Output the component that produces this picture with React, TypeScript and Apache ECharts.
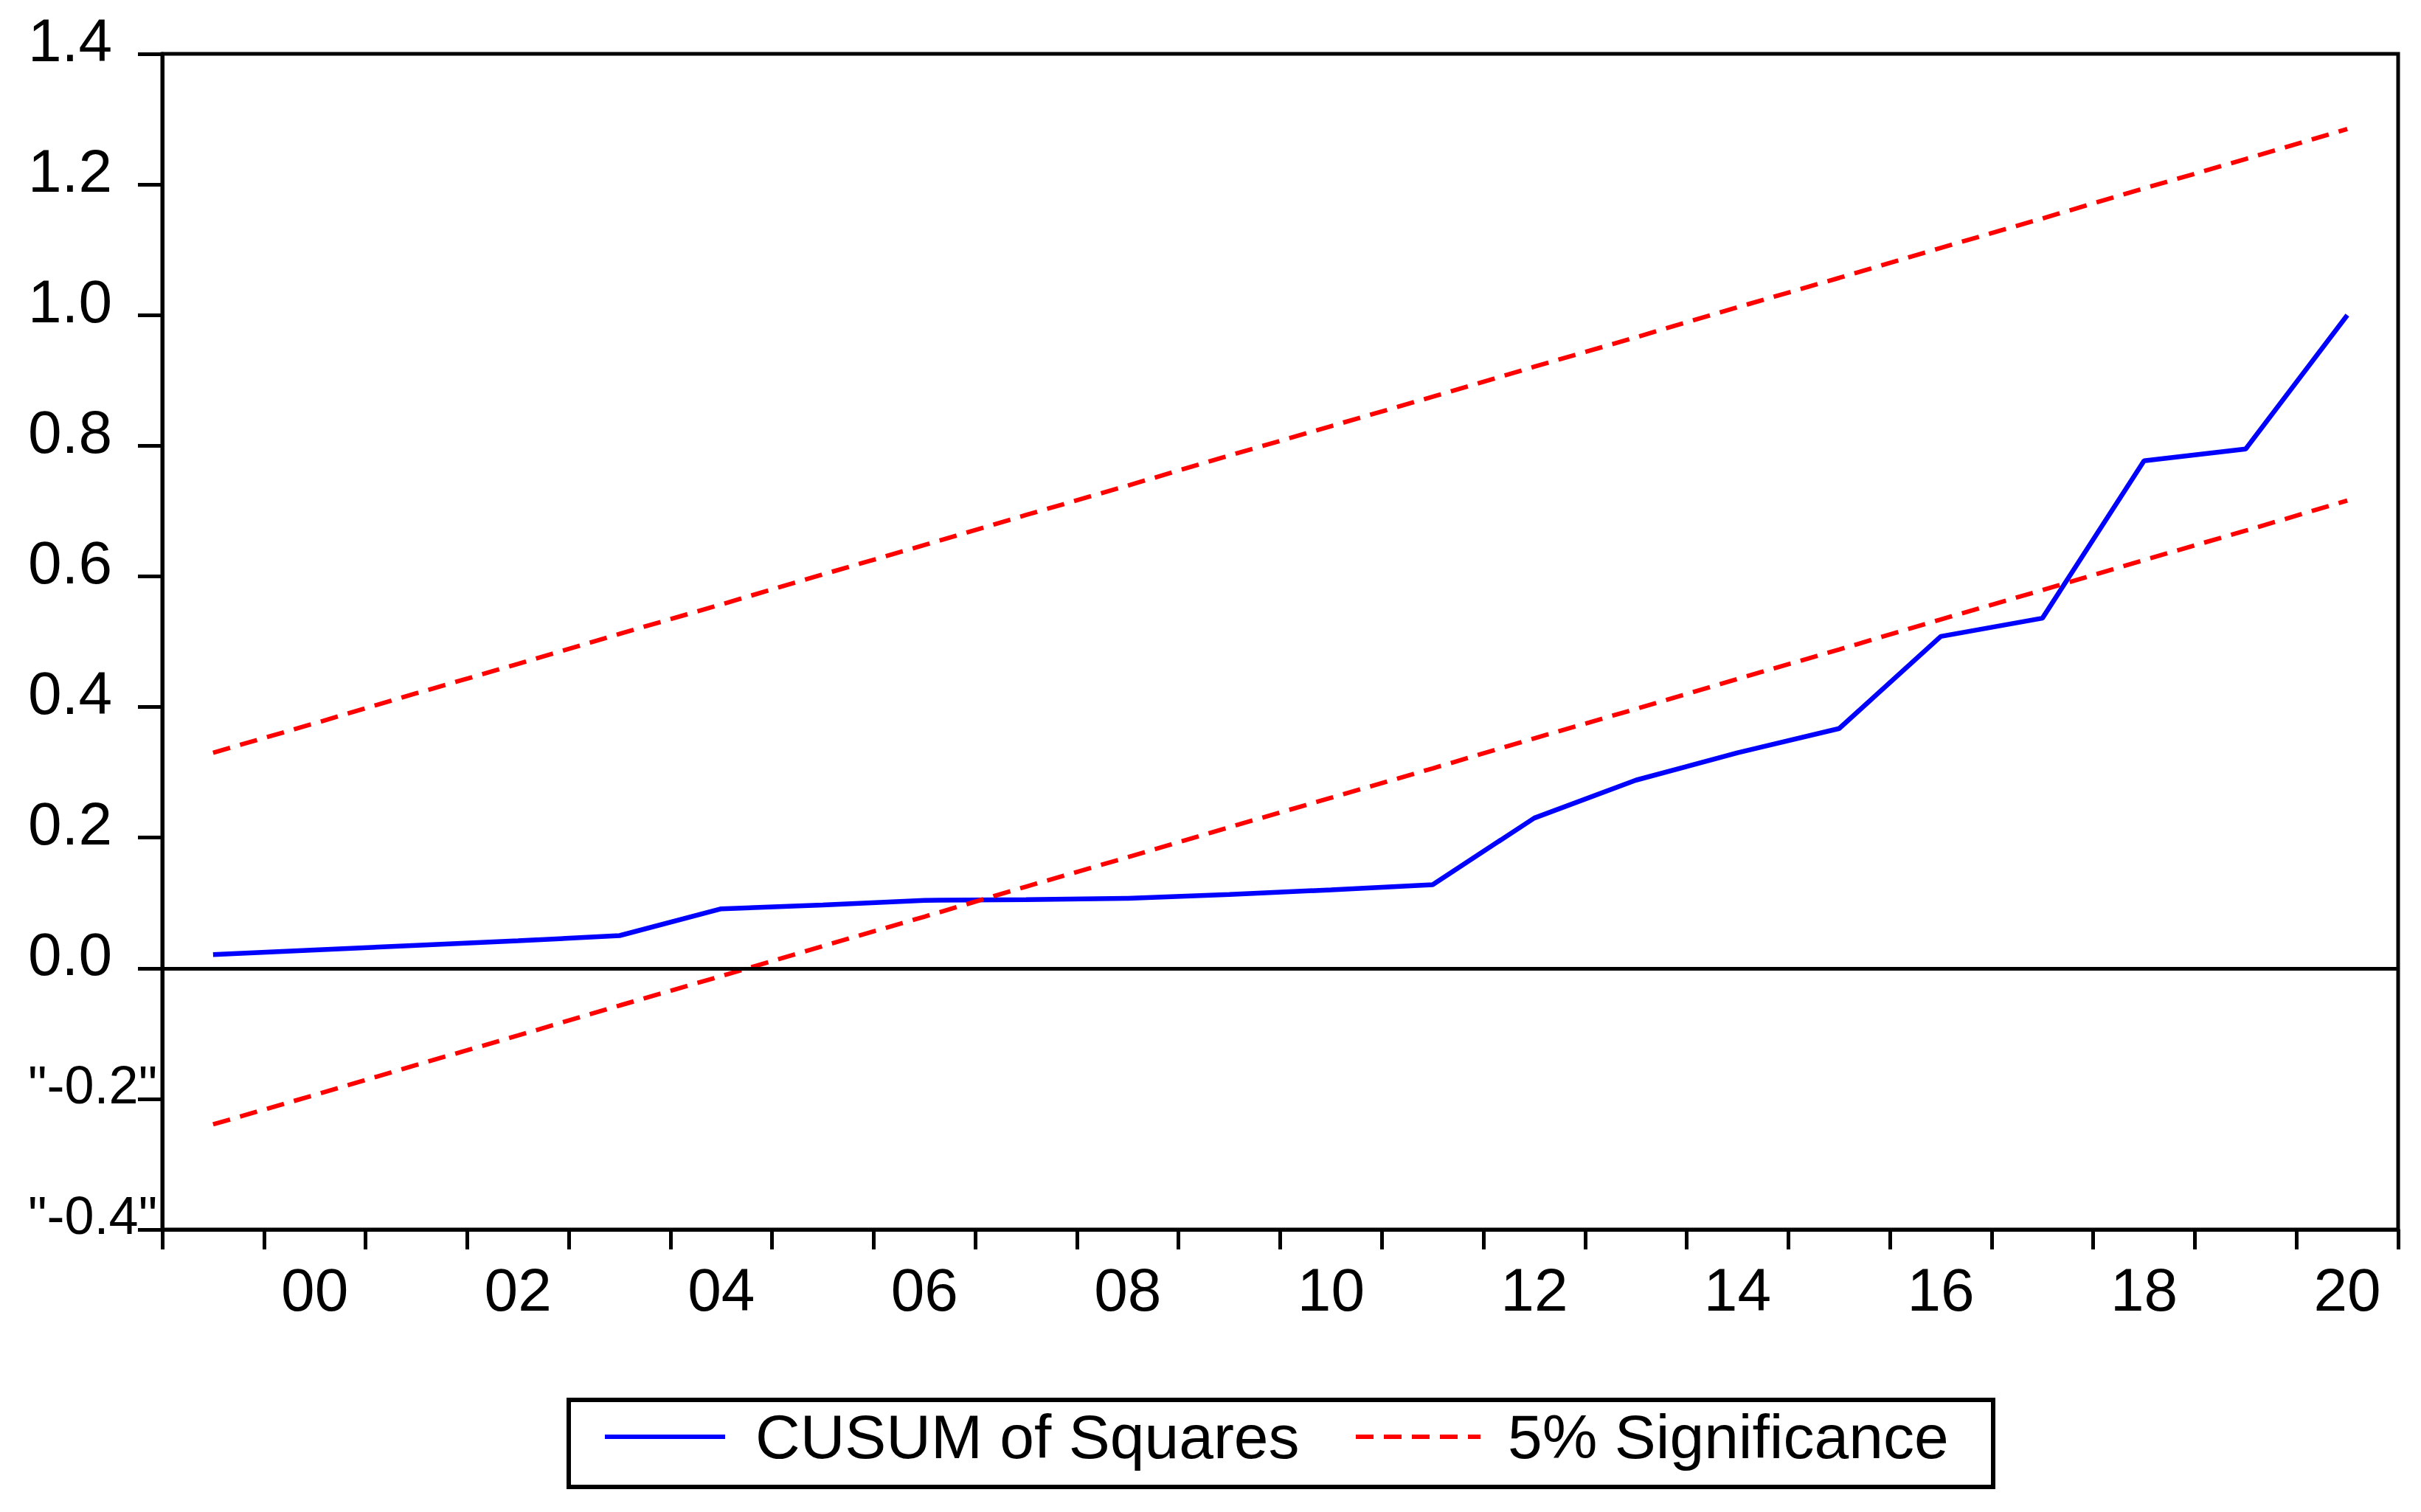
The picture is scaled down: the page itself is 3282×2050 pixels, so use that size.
import React, { useEffect, useRef } from 'react';
import * as echarts from 'echarts';

// annual sample 1999-2020
const years = [
  '1999', '2000', '2001', '2002', '2003', '2004', '2005', '2006', '2007', '2008', '2009',
  '2010', '2011', '2012', '2013', '2014', '2015', '2016', '2017', '2018', '2019', '2020',
];

const cusumSq = [
  0.021, 0.028, 0.035, 0.042, 0.050, 0.091, 0.097, 0.104, 0.105, 0.107, 0.113,
  0.120, 0.128, 0.230, 0.288, 0.330, 0.367, 0.508, 0.536, 0.777, 0.795, 1.000,
];

const upperBound = [
  0.330, 0.375, 0.421, 0.466, 0.512, 0.557, 0.603, 0.648, 0.694, 0.739, 0.785,
  0.830, 0.875, 0.921, 0.966, 1.012, 1.057, 1.103, 1.148, 1.194, 1.239, 1.285,
];

const lowerBound = [
  -0.239, -0.194, -0.148, -0.103, -0.057, -0.012, 0.034, 0.079, 0.125, 0.170, 0.216,
  0.261, 0.306, 0.352, 0.397, 0.443, 0.488, 0.534, 0.579, 0.625, 0.670, 0.716,
];

const yTickValues = [-0.4, -0.2, 0, 0.2, 0.4, 0.6, 0.8, 1.0, 1.2, 1.4];
const yTickLabels = ['"-0.4"', '"-0.2"', '0.0', '0.2', '0.4', '0.6', '0.8', '1.0', '1.2', '1.4'];

const FONT = "'Liberation Sans', Arial, sans-serif";
const DASH = [24, 14];

const App: React.FC = () => {
  const chartRef = useRef<HTMLDivElement>(null);

  useEffect(() => {
    if (!chartRef.current) return;
    const chart = echarts.init(chartRef.current, undefined, { renderer: 'svg' });

    const legendBase = {
      top: 1906,
      padding: 0,
      itemHeight: 14,
      selectedMode: false,
      itemStyle: { color: 'rgba(0,0,0,0)', borderWidth: 0 },
    };

    const option = {
      animation: false,
      backgroundColor: '#ffffff',
      grid: {
        left: 220,
        right: 31,
        top: 73,
        bottom: 383,
        outerBoundsMode: 'none',
        containLabel: false,
        show: true,
        borderColor: '#000',
        borderWidth: 5,
        backgroundColor: 'transparent',
      },
      xAxis: {
        type: 'category',
        data: years,
        boundaryGap: true,
        axisLine: { onZero: false, lineStyle: { color: '#000', width: 5 } },
        axisTick: { show: true, interval: 0, length: 27, alignWithLabel: false, lineStyle: { color: '#000', width: 5 } },
        axisLabel: {
          interval: (idx: number) => idx % 2 === 1,
          formatter: (v: string) => v.slice(2),
          margin: 40,
          fontSize: 82,
          fontFamily: FONT,
          color: '#000',
        },
        splitLine: { show: false },
      },
      yAxis: {
        type: 'value',
        min: -0.4,
        max: 1.4,
        interval: 0.2,
        axisLine: { show: true, lineStyle: { color: '#000', width: 5 } },
        axisTick: { show: true, length: 33, lineStyle: { color: '#000', width: 5 } },
        axisLabel: {
          align: 'left',
          margin: 182,
          fontSize: 82,
          fontFamily: FONT,
          color: '#000',
          padding: [0, 0, 38, 0],
          formatter: (v: number) => {
            const i = yTickValues.findIndex((t) => Math.abs(t - v) < 1e-6);
            if (i < 0) return '';
            const s = yTickLabels[i];
            return s.startsWith('"') ? `{q|${s}}` : s;
          },
          rich: {
            q: { fontSize: 72, fontFamily: FONT, color: '#000' },
          },
        },
        splitLine: { show: false },
      },
      legend: [
        {
          ...legendBase,
          left: 817,
          itemWidth: 163,
          data: ['CUSUM of Squares'],
          lineStyle: { width: 6, type: 'solid' },
          textStyle: { fontSize: 84, fontFamily: FONT, color: '#000', padding: [0, 0, 24, 36] },
        },
        {
          ...legendBase,
          left: 1835,
          itemWidth: 169,
          data: ['5% Significance'],
          lineStyle: { width: 6, type: DASH },
          textStyle: { fontSize: 84, fontFamily: FONT, color: '#000', padding: [0, 0, 24, 32] },
        },
      ],
      graphic: [
        {
          type: 'rect',
          z: 0,
          shape: { x: 771, y: 1898, width: 1931, height: 118 },
          style: { fill: 'none', stroke: '#000', lineWidth: 6 },
        },
      ],
      series: [
        {
          name: 'CUSUM of Squares',
          type: 'line',
          data: cusumSq,
          symbol: 'none',
          z: 2,
          lineStyle: { color: '#0000ff', width: 6.5 },
          itemStyle: { color: '#0000ff' },
          markLine: {
            silent: true,
            symbol: ['none', 'none'],
            label: { show: false },
            lineStyle: { color: '#000', width: 5, type: 'solid' },
            data: [{ yAxis: 0 }],
          },
        },
        {
          name: '5% Significance',
          type: 'line',
          data: upperBound,
          symbol: 'none',
          z: 3,
          lineStyle: { color: '#ff0000', width: 6, type: DASH },
          itemStyle: { color: '#ff0000' },
        },
        {
          name: '5% Significance',
          type: 'line',
          data: lowerBound,
          symbol: 'none',
          z: 3,
          lineStyle: { color: '#ff0000', width: 6, type: DASH },
          itemStyle: { color: '#ff0000' },
        },
      ],
    };

    chart.setOption(option);
    return () => {
      chart.dispose();
    };
  }, []);

  return (
    <div
      ref={chartRef}
      style={{ position: 'absolute', left: 0, top: 0, width: '3282px', height: '2050px', background: '#fff' }}
    />
  );
};

export default App;
